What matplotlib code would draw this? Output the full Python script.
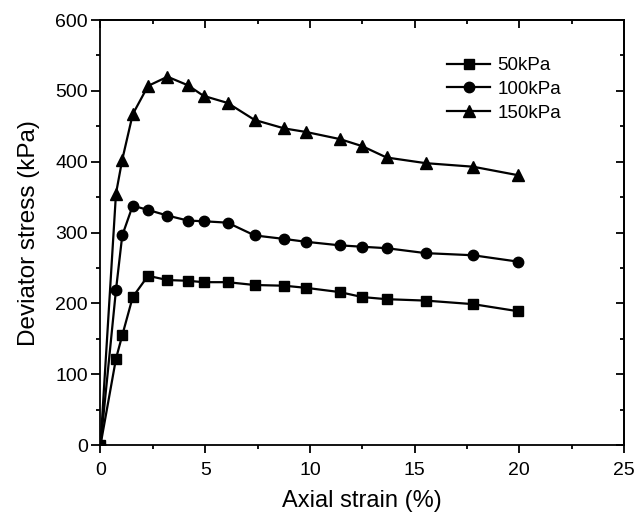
import matplotlib
matplotlib.use("Agg")
import matplotlib.pyplot as plt
from matplotlib.ticker import MultipleLocator

plt.rcParams['font.family'] = ['Liberation Sans', 'DejaVu Sans']

strain = [0, 0.74, 1.04, 1.54, 2.27, 3.2, 4.17, 4.92, 6.07, 7.36, 8.78, 9.82, 11.43, 12.5, 13.66, 15.53, 17.79, 19.94]
s50 = [0, 122, 155, 209, 239, 233, 232, 230, 230, 226, 225, 222, 216, 209, 206, 204, 199, 189]
s100 = [0, 219, 296, 338, 332, 324, 317, 316, 314, 296, 291, 287, 282, 280, 278, 271, 268, 259]
s150 = [0, 355, 403, 467, 507, 520, 508, 493, 483, 459, 447, 442, 432, 422, 406, 398, 393, 381]
labels = ['50kPa', '100kPa', '150kPa']
markers = ['s', 'o', '^']
msizes = [7, 7.5, 8.5]

fig = plt.figure(figsize=(6.38, 5.14), dpi=100)
ax = fig.add_axes([0.1575, 0.134, 0.8205, 0.827])

for ys, lab, m, ms in zip([s50, s100, s150], labels, markers, msizes):
    ax.plot(strain, ys, color='black', lw=1.6, marker=m, markersize=ms, label=lab)

ax.set_xlim(0, 25)
ax.set_ylim(0, 600)
ax.xaxis.set_major_locator(MultipleLocator(5))
ax.xaxis.set_minor_locator(MultipleLocator(2.5))
ax.yaxis.set_major_locator(MultipleLocator(100))
ax.yaxis.set_minor_locator(MultipleLocator(50))
ax.tick_params(which='both', direction='out', width=1.3, labelsize=14, top=False, right=False)
ax.tick_params(axis='x', which='major', length=6, pad=6)
ax.tick_params(axis='y', which='major', length=6.5, pad=2.5)
ax.tick_params(which='minor', length=3)
for sp in ax.spines.values():
    sp.set_linewidth(1.3)

# inward ticks on top and right
sec_x = ax.secondary_xaxis('top')
sec_x.xaxis.set_major_locator(MultipleLocator(5))
sec_x.xaxis.set_minor_locator(MultipleLocator(2.5))
sec_x.tick_params(which='both', direction='in', width=1.3, labeltop=False)
sec_x.tick_params(which='major', length=6)
sec_x.tick_params(which='minor', length=3)
sec_x.spines['top'].set_linewidth(1.3)
sec_y = ax.secondary_yaxis('right')
sec_y.yaxis.set_major_locator(MultipleLocator(100))
sec_y.yaxis.set_minor_locator(MultipleLocator(50))
sec_y.tick_params(which='both', direction='in', width=1.3, labelright=False)
sec_y.tick_params(which='major', length=6)
sec_y.tick_params(which='minor', length=3)
sec_y.spines['right'].set_linewidth(1.3)

ax.set_xlabel('Axial strain (%)', fontsize=17, labelpad=8)
ax.set_ylabel('Deviator stress (kPa)', fontsize=17.5, labelpad=11)

ax.legend(loc='upper left', bbox_to_anchor=(447 / 638, 1 - 57 / 514),
          bbox_transform=fig.transFigure, frameon=False, fontsize=13.5,
          handlelength=2.3, handletextpad=0.4, labelspacing=0.35, borderpad=0, borderaxespad=0)

fig.savefig('out.png', dpi=100)
